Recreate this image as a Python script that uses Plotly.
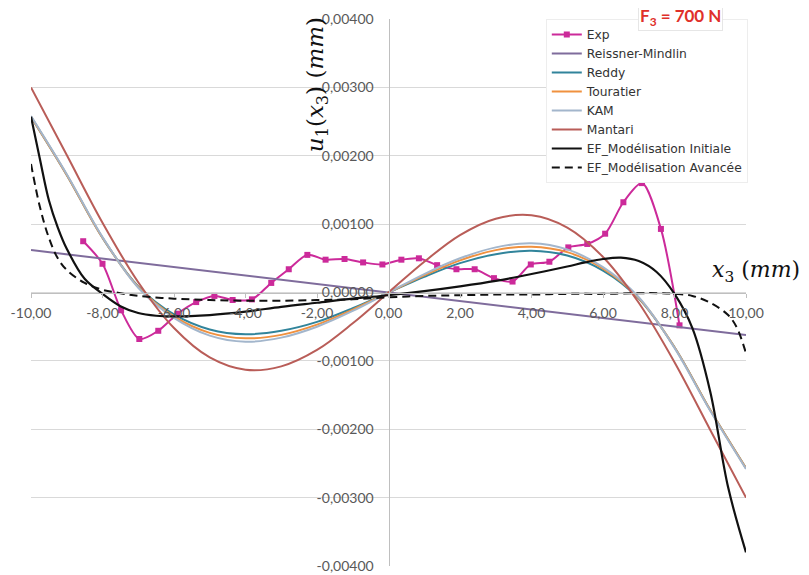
import plotly.graph_objects as go

# ---------------- data (values in mm) ----------------
exp_x = [-8.54, -8.00, -7.48, -6.97, -6.44, -5.90, -5.38, -4.87, -4.36, -3.82, -3.28,
         -2.79, -2.27, -1.76, -1.23, -0.71, -0.17, 0.36, 0.85, 1.36, 1.90, 2.41,
         2.95, 3.47, 3.98, 4.50, 5.03, 5.56, 6.06, 6.57, 7.09, 7.62, 8.14]
exp_u = [0.00075, 0.00042, -0.00026, -0.00068, -0.00056, -0.00031, -0.00014, -0.00005,
         -0.00011, -0.00010, 0.00014, 0.00034, 0.00055, 0.00048, 0.00049, 0.00044,
         0.00041, 0.00048, 0.00050, 0.00040, 0.00034, 0.00034, 0.00021, 0.00016,
         0.00041, 0.00045, 0.00066, 0.00071, 0.00086, 0.00132, 0.00160, 0.00093, -0.00048]

rm_x = [-10, 10]
rm_u = [0.00062, -0.00062]

model_x = [-10, -9, -8, -7, -6, -5, -4, -3, -2, -1, 0, 1, 2, 3, 4, 5, 6, 7, 8, 9, 10]
reddy_u = [0.00257, 0.00172, 0.00080, 0.00009, -0.00032, -0.00054, -0.00061, -0.00056,
           -0.00043, -0.00023, 0.0, 0.00023, 0.00043, 0.00056, 0.00061, 0.00054,
           0.00032, -0.00009, -0.00080, -0.00172, -0.00257]
touratier_u = [0.00257, 0.00172, 0.00080, 0.00008, -0.00035, -0.00059, -0.00067, -0.00062,
               -0.00047, -0.00025, 0.0, 0.00025, 0.00047, 0.00062, 0.00067, 0.00059,
               0.00035, -0.00008, -0.00080, -0.00172, -0.00257]
kam_u = [0.00258, 0.00173, 0.00081, 0.00007, -0.00037, -0.00063, -0.00072, -0.00066,
         -0.00050, -0.00027, 0.0, 0.00027, 0.00050, 0.00066, 0.00072, 0.00063,
         0.00037, -0.00007, -0.00081, -0.00173, -0.00258]
mantari_u = [0.00300, 0.00201, 0.00102, 0.00015, -0.00052, -0.00095, -0.00113, -0.00108,
             -0.00084, -0.00045, 0.0, 0.00045, 0.00084, 0.00108, 0.00113, 0.00095,
             0.00052, -0.00015, -0.00102, -0.00201, -0.00300]

efi_x = [-10, -9.75, -9.5, -9.25, -9, -8.5, -8, -7.5, -7, -6.5, -6, -5, -4, -3, -2, -1,
         0, 1, 2, 3, 4, 5, 5.5, 6, 6.5, 7, 7.5, 8, 8.5, 9, 9.5, 10]
efi_u = [0.00257, 0.00195, 0.00135, 0.00095, 0.00064, 0.00020, -0.00002, -0.00020,
         -0.00030, -0.00034, -0.00035, -0.00033, -0.00028, -0.00021, -0.00015, -0.00009,
         -0.00004, 0.00002, 0.00009, 0.00017, 0.00027, 0.00038, 0.00044, 0.00049,
         0.00051, 0.00046, 0.00030, -0.00002, -0.00052, -0.00145, -0.00285, -0.00380]

efa_x = [-10, -9.75, -9.5, -9.25, -9, -8.5, -8, -7.5, -7, -6, -5, -4, -3, -2, -1, 0,
         1, 2, 3, 4, 5, 6, 7, 7.5, 8, 8.5, 9, 9.5, 9.75, 10]
efa_u = [0.00188, 0.00125, 0.00080, 0.00050, 0.00033, 0.00014, 0.00004, -0.00001,
         -0.00005, -0.00009, -0.00011, -0.00012, -0.00012, -0.00011, -0.00010, -0.00007,
         -0.00005, -0.00004, -0.00003, -0.00003, -0.00002, -0.00002, -0.00001, -0.00001,
         -0.00002, -0.00005, -0.00015, -0.00033, -0.00052, -0.00089]

x_tickvals = [-10, -8, -6, -4, -2, 0, 2, 4, 6, 8, 10]
x_ticktext = ["-10,00", "-8,00", "-6,00", "-4,00", "-2,00", "0,00", "2,00", "4,00",
              "6,00", "8,00", "10,00"]
y_tickvals = [0.004, 0.003, 0.002, 0.001, 0.0, -0.001, -0.002, -0.003, -0.004]
y_ticktext = ["0,00400", "0,00300", "0,00200", "0,00100", "0,00000", "-0,00100",
              "-0,00200", "-0,00300", "-0,00400"]

# ---------------- figure ----------------
fig = go.Figure()

fig.add_trace(go.Scatter(x=exp_x, y=exp_u, name="Exp", mode="lines+markers",
                         line=dict(color="#CC2A9A", width=2, shape="spline", smoothing=0.8),
                         marker=dict(symbol="square", size=6, color="#CC2A9A")))
fig.add_trace(go.Scatter(x=rm_x, y=rm_u, name="Reissner-Mindlin", mode="lines",
                         line=dict(color="#7F6C9C", width=2)))
fig.add_trace(go.Scatter(x=model_x, y=reddy_u, name="Reddy", mode="lines",
                         line=dict(color="#31849B", width=2, shape="spline")))
fig.add_trace(go.Scatter(x=model_x, y=touratier_u, name="Touratier", mode="lines",
                         line=dict(color="#F0913F", width=2, shape="spline")))
fig.add_trace(go.Scatter(x=model_x, y=kam_u, name="KAM", mode="lines",
                         line=dict(color="#A3B6CC", width=2, shape="spline")))
fig.add_trace(go.Scatter(x=model_x, y=mantari_u, name="Mantari", mode="lines",
                         line=dict(color="#B95D58", width=2, shape="spline")))
fig.add_trace(go.Scatter(x=efi_x, y=efi_u, name="EF_Modélisation Initiale", mode="lines",
                         line=dict(color="#111111", width=2.2, shape="spline")))
fig.add_trace(go.Scatter(x=efa_x, y=efa_u, name="EF_Modélisation Avancée", mode="lines",
                         line=dict(color="#111111", width=2, dash="8px,5px", shape="spline")))

tickfont = dict(family="Lato, Open Sans, sans-serif", size=14, color="#595959")

# the page body adds an 8px offset; figure size and margins compensate for it
fig.update_layout(
    width=801, height=567,
    margin=dict(l=23, r=63, t=11, b=9),
    paper_bgcolor="white", plot_bgcolor="white",
    showlegend=True,
    legend=dict(x=0.72, y=1.0, xanchor="left", yanchor="top",
                bgcolor="white", bordercolor="#EDEDED", borderwidth=1,
                font=dict(family="DejaVu Sans, sans-serif", size=12.3, color="#333333"),
                itemwidth=30, tracegroupgap=0),
    xaxis=dict(range=[-10, 10], anchor="free", position=0.5,
               tickvals=x_tickvals, ticktext=x_ticktext, tickfont=tickfont,
               showgrid=False, zeroline=False, showline=True, linecolor="#BFBFBF",
               linewidth=1, ticks="outside", ticklen=4, tickcolor="#BFBFBF",
               ticklabelstandoff=4, automargin=False),
    yaxis=dict(range=[-0.004, 0.004], anchor="free", position=0.5,
               tickvals=y_tickvals, ticktext=y_ticktext, tickfont=tickfont,
               showgrid=True, gridcolor="#D9D9D9", gridwidth=1, zeroline=False,
               showline=True, linecolor="#BFBFBF", linewidth=1,
               ticks="", ticklabelstandoff=12, automargin=False),
    annotations=[
        dict(text="<i>u</i><sub>1</sub>(<i>x</i><sub>3</sub>) (<i>mm</i>)",
             xref="paper", yref="paper", x=0.400, y=0.879, textangle=-90,
             showarrow=False, xanchor="center", yanchor="middle",
             font=dict(family="DejaVu Serif, serif", size=23, color="#111111")),
        dict(text="<i>x</i><sub>3</sub> (<i>mm</i>)",
             xref="paper", yref="paper", x=1.014, y=0.5375,
             showarrow=False, xanchor="center", yanchor="middle",
             font=dict(family="DejaVu Serif, serif", size=22, color="#111111")),
        dict(text="<b>F<sub>3</sub> = 700 N</b>",
             xref="paper", yref="paper", x=0.909, y=1.0035,
             showarrow=False, xanchor="center", yanchor="middle",
             bgcolor="white", bordercolor="#E6E6E6", borderwidth=1, borderpad=1,
             font=dict(family="Lato, Open Sans, sans-serif", size=17, color="#E0302A")),
    ],
)

fig.write_html("out.html")
